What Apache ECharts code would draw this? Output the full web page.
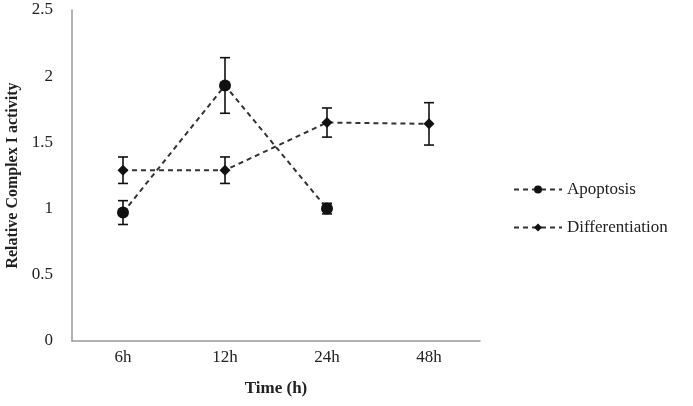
<!DOCTYPE html>
<html lang="en">
<head>
    <meta charset="UTF-8">
    <title>Relative Complex I activity</title>
    <script src="https://cdn.jsdelivr.net/npm/echarts@6.0.0/dist/echarts.min.js"></script>
</head>
<body style="margin:0;background:#fff;">
    <div id="main" style="width: 693px;height:406px;"></div>
    <script type="text/javascript">
        // data
        const times = ['6h', '12h', '24h', '48h'];
        const apoptosis = [0.97, 1.93, 1.0, null];
        const apoptosisErr = [0.09, 0.21, 0.04, null];
        const differentiation = [1.29, 1.29, 1.65, 1.64];
        const differentiationErr = [0.10, 0.10, 0.11, 0.16];

        const serif = 'Liberation Serif';

        // builds [x, low, high] rows for the error bars
        function errRows(vals, errs) {
            let rows = [];
            vals.forEach((v, i) => {
                if (v != null) rows.push([i, v - errs[i], v + errs[i]]);
            });
            return rows;
        }

        function renderErr(params, api) {
            let lo = api.coord([api.value(0), api.value(1)]);
            let hi = api.coord([api.value(0), api.value(2)]);
            let w = 5;
            let style = { stroke: '#111', lineWidth: 1.6 };
            return {
                type: 'group',
                children: [
                    { type: 'line', shape: { x1: lo[0], y1: lo[1], x2: hi[0], y2: hi[1] }, style: style },
                    { type: 'line', shape: { x1: lo[0] - w, y1: lo[1], x2: lo[0] + w, y2: lo[1] }, style: style },
                    { type: 'line', shape: { x1: hi[0] - w, y1: hi[1], x2: hi[0] + w, y2: hi[1] }, style: style }
                ]
            };
        }

        var chart = echarts.init(document.getElementById('main'));

        var option = {
            animation: false,
            backgroundColor: '#fff',
            grid: { left: 72, right: 213, top: 10, bottom: 65, outerBoundsMode: 'none', containLabel: false },
            legend: {
                orient: 'vertical',
                left: 508,
                top: 176,
                itemWidth: 48,
                itemHeight: 10,
                itemGap: 21,
                textStyle: { fontFamily: serif, fontSize: 17, color: '#222' },
                data: ['Apoptosis', 'Differentiation']
            },
            xAxis: {
                type: 'category',
                data: times,
                name: 'Time (h)',
                nameLocation: 'middle',
                nameGap: 39,
                nameTextStyle: { fontFamily: serif, fontSize: 17, fontWeight: 'bold', color: '#222' },
                axisLine: { lineStyle: { color: '#999', width: 1.5 } },
                axisTick: { show: false },
                axisLabel: { fontFamily: serif, fontSize: 17, color: '#222', margin: 8 }
            },
            yAxis: {
                type: 'value',
                min: 0,
                max: 2.5,
                interval: 0.5,
                name: 'Relative Complex I activity',
                nameLocation: 'middle',
                nameGap: 49,
                nameTextStyle: { fontFamily: serif, fontSize: 16, fontWeight: 'bold', color: '#222' },
                axisLine: { show: true, lineStyle: { color: '#999', width: 1.5 } },
                axisTick: { show: false },
                splitLine: { show: false },
                axisLabel: { fontFamily: serif, fontSize: 17, color: '#222', margin: 19 }
            },
            series: [
                {
                    name: 'Apoptosis',
                    type: 'line',
                    data: apoptosis,
                    symbol: 'circle',
                    symbolSize: 12,
                    itemStyle: { color: '#111' },
                    lineStyle: { color: '#333', width: 2, type: [5, 4] },
                    z: 3
                },
                {
                    name: 'Differentiation',
                    type: 'line',
                    data: differentiation,
                    symbol: 'diamond',
                    symbolSize: 11,
                    itemStyle: { color: '#111' },
                    lineStyle: { color: '#333', width: 2, type: [5, 4] },
                    z: 3
                },
                {
                    type: 'custom',
                    renderItem: renderErr,
                    data: errRows(apoptosis, apoptosisErr),
                    encode: { x: 0, y: [1, 2] },
                    z: 2
                },
                {
                    type: 'custom',
                    renderItem: renderErr,
                    data: errRows(differentiation, differentiationErr),
                    encode: { x: 0, y: [1, 2] },
                    z: 2
                }
            ]
        };

        chart.setOption(option);
    </script>
</body>
</html>
